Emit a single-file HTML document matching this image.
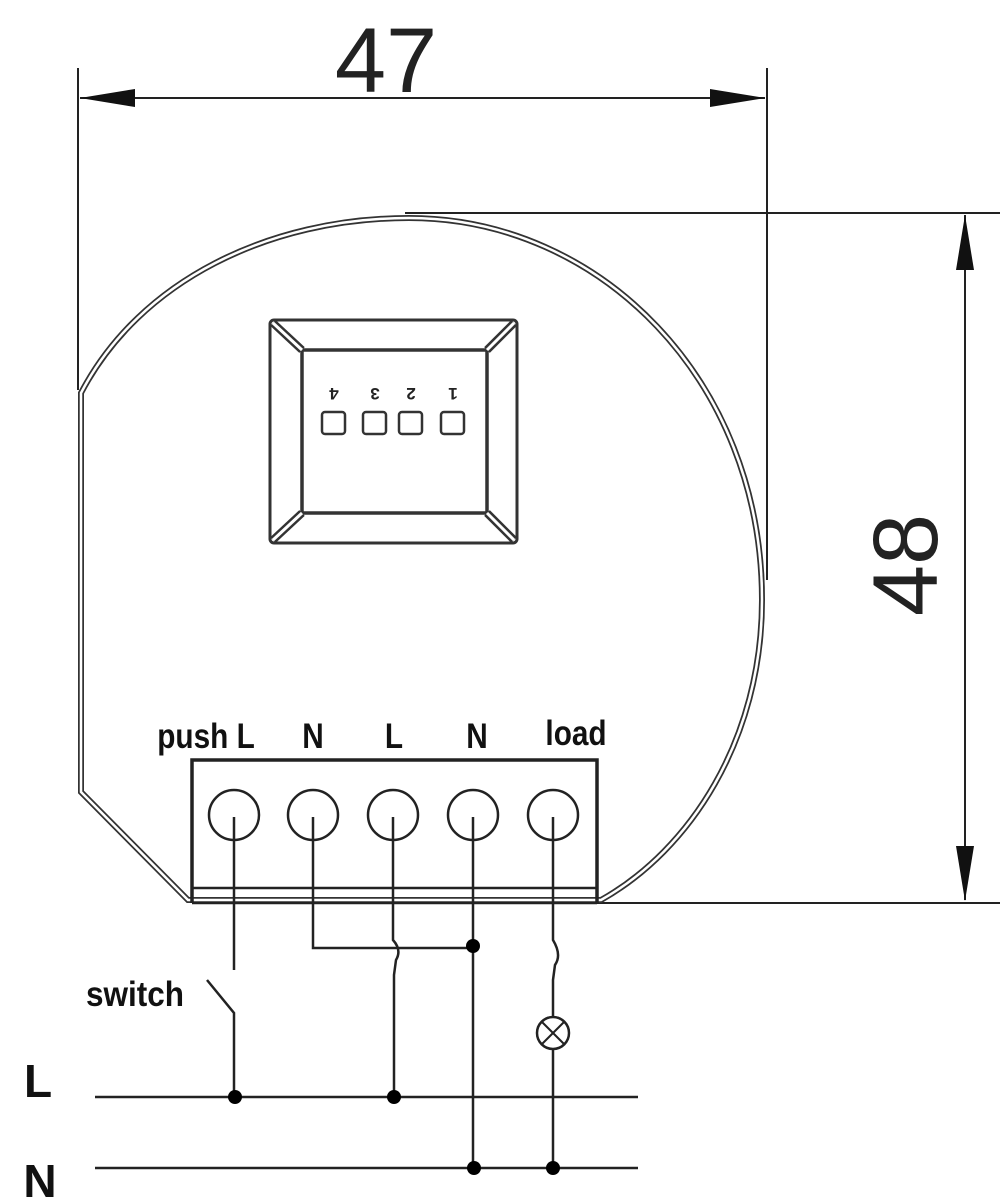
<!DOCTYPE html>
<html><head><style>
html,body{margin:0;padding:0;background:#fff;}
svg{display:block;}
text{font-family:"Liberation Sans",sans-serif;}
</style></head><body>
<svg width="1006" height="1200" viewBox="0 0 1006 1200" xmlns="http://www.w3.org/2000/svg">
<g fill="none" stroke="#222">
<line x1="78" y1="68" x2="78" y2="390" stroke-width="2"/>
<line x1="767" y1="68" x2="767" y2="580" stroke-width="2"/>
<line x1="80" y1="98" x2="765" y2="98" stroke-width="2"/>
<line x1="405" y1="213" x2="1000" y2="213" stroke-width="2"/>
<line x1="597" y1="903" x2="1000" y2="903" stroke-width="2"/>
<line x1="965" y1="215" x2="965" y2="900" stroke-width="2"/>
</g>
<g fill="#111">
<polygon points="80,98 135,89 135,107"/>
<polygon points="765,98 710,89 710,107"/>
<polygon points="965,215 956,270 974,270"/>
<polygon points="965,901 956,846 974,846"/>
</g>
<text x="386" y="92" font-size="92" text-anchor="middle" fill="#222">47</text>
<text transform="translate(937,565) rotate(-90)" font-size="92" text-anchor="middle" fill="#222">48</text>

<path d="M81,393 C 140,280 270,218 409,218 C 600,218 762,380 762,600 C 762,740 690,850 601,900 L188,900 L81,792 Z" fill="none" stroke="#333" stroke-width="6"/>
<path d="M81,393 C 140,280 270,218 409,218 C 600,218 762,380 762,600 C 762,740 690,850 601,900 L188,900 L81,792 Z" fill="none" stroke="#fff" stroke-width="2.5"/>

<g fill="none" stroke="#333">
<rect x="270" y="320" width="247" height="223" rx="4" stroke-width="3"/>
<rect x="302" y="350" width="185" height="163" stroke-width="3.5"/>
<line x1="273" y1="323" x2="302" y2="350" stroke-width="8"/>
<line x1="514" y1="323" x2="487" y2="350" stroke-width="8"/>
<line x1="273" y1="540" x2="302" y2="513" stroke-width="8"/>
<line x1="514" y1="540" x2="487" y2="513" stroke-width="8"/>
<line x1="273" y1="323" x2="302" y2="350" stroke="#fff" stroke-width="3"/>
<line x1="514" y1="323" x2="487" y2="350" stroke="#fff" stroke-width="3"/>
<line x1="273" y1="540" x2="302" y2="513" stroke="#fff" stroke-width="3"/>
<line x1="514" y1="540" x2="487" y2="513" stroke="#fff" stroke-width="3"/>
<rect x="322" y="412" width="23" height="22" rx="3" stroke-width="2.5"/>
<rect x="363" y="412" width="23" height="22" rx="3" stroke-width="2.5"/>
<rect x="399" y="412" width="23" height="22" rx="3" stroke-width="2.5"/>
<rect x="441" y="412" width="23" height="22" rx="3" stroke-width="2.5"/>
</g>
<g font-size="17" font-weight="bold" fill="#222" text-anchor="middle">
<text transform="translate(334,388) rotate(180)">4</text>
<text transform="translate(375,388) rotate(180)">3</text>
<text transform="translate(411,388) rotate(180)">2</text>
<text transform="translate(453,388) rotate(180)">1</text>
</g>

<g font-size="35" font-weight="bold" fill="#111" text-anchor="middle">
<text transform="translate(206,748) scale(0.85,1)">push L</text>
<text transform="translate(313,748) scale(0.85,1)">N</text>
<text transform="translate(394,748) scale(0.85,1)">L</text>
<text transform="translate(477,748) scale(0.85,1)">N</text>
<text transform="translate(576,745) scale(0.85,1)">load</text>
<text transform="translate(135,1006) scale(0.9,1)">switch</text>
</g>
<text x="38" y="1097" font-size="46" font-weight="bold" fill="#111" text-anchor="middle">L</text>
<text x="40" y="1197" font-size="46" font-weight="bold" fill="#111" text-anchor="middle">N</text>

<g fill="none" stroke="#222">
<path d="M192,903 L192,760 L597,760 L597,903" stroke-width="3.5"/>
<line x1="192" y1="888" x2="597" y2="888" stroke-width="2.5"/>
<line x1="192" y1="903" x2="597" y2="903" stroke-width="2.5"/>
<g stroke-width="2.5">
<circle cx="234" cy="815" r="25"/>
<circle cx="313" cy="815" r="25"/>
<circle cx="393" cy="815" r="25"/>
<circle cx="473" cy="815" r="25"/>
<circle cx="553" cy="815" r="25"/>
</g>
<g stroke-width="2.5">
<line x1="234" y1="817" x2="234" y2="970"/>
<path d="M207,980 L234,1013 L234,1097"/>
<path d="M313,817 L313,948 L473,948"/>
<path d="M393,817 L393,940 Q402,950 396,960 L394,975 L394,1097"/>
<line x1="473" y1="817" x2="473" y2="1168"/>
<path d="M553,817 L553,940 Q562,955 555,965 L553,980 L553,1017"/>
<line x1="553" y1="1049" x2="553" y2="1168"/>
<circle cx="553" cy="1033" r="16"/>
<line x1="542" y1="1022" x2="564" y2="1044" stroke-width="2"/>
<line x1="564" y1="1022" x2="542" y2="1044" stroke-width="2"/>
<line x1="95" y1="1097" x2="638" y2="1097"/>
<line x1="95" y1="1168" x2="638" y2="1168"/>
</g>
</g>
<g fill="#000">
<circle cx="473" cy="946" r="7"/>
<circle cx="235" cy="1097" r="7"/>
<circle cx="394" cy="1097" r="7"/>
<circle cx="474" cy="1168" r="7"/>
<circle cx="553" cy="1168" r="7"/>
</g>
</svg>
</body></html>
